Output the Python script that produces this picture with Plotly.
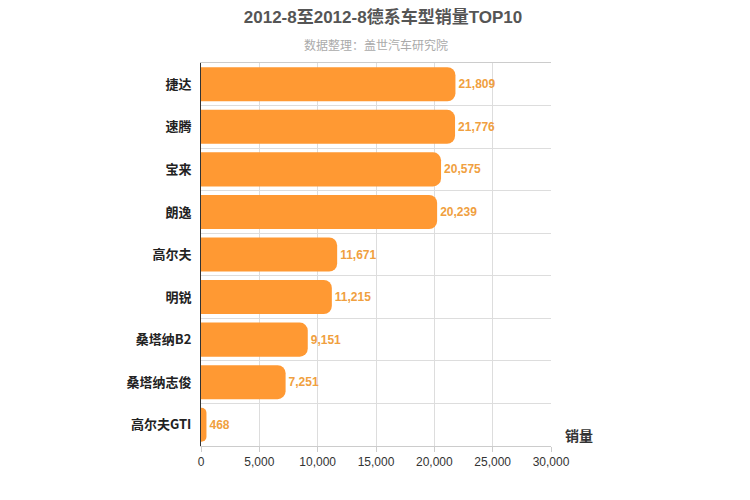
import plotly.graph_objects as go

categories = ["捷达", "速腾", "宝来", "朗逸", "高尔夫", "明锐", "桑塔纳B2", "桑塔纳志俊", "高尔夫GTI"]
values = [21809, 21776, 20575, 20239, 11671, 11215, 9151, 7251, 468]
tick_vals = [0, 5000, 10000, 15000, 20000, 25000, 30000]

fig = go.Figure(go.Bar(
    y=categories, x=values, orientation="h",
    marker=dict(color="#FF9933", cornerradius=8, line=dict(width=0)),
    width=0.8,
    text=[f"<b>{v:,}</b>" for v in values], textposition="outside",
    textfont=dict(color="#F0A040", size=12, family="Liberation Sans, Arial"),
    cliponaxis=False,
))
fig.update_layout(
    width=750, height=500, plot_bgcolor="white", paper_bgcolor="white",
    margin=dict(l=193, r=207, t=55, b=62, autoexpand=False),
    font=dict(family="Liberation Sans, Noto Sans CJK SC, Arial", color="#333"),
    title=dict(text="<b>2012-8至2012-8德系车型销量TOP10</b>", x=0.5, xanchor="center",
               y=0.982, yanchor="middle", font=dict(size=17, color="#555")),
    annotations=[
        dict(text="数据整理：盖世汽车研究院", x=0.5, xref="paper", y=1, yref="paper",
             yanchor="middle", yshift=18, showarrow=False, font=dict(size=12, color="#aaa")),
        dict(text="<b>销量</b>", x=1.0, xref="paper", xanchor="left", y=0, yref="paper",
             yanchor="bottom", showarrow=False, font=dict(size=14, color="#333"), xshift=12),
    ],
    showlegend=False,
)
fig.update_xaxes(range=[0, 30000], tickvals=tick_vals, tickformat=",", showgrid=True,
                 gridcolor="#ddd", zeroline=False, showline=True, linecolor="#ccc",
                 ticks="outside", tickcolor="#ccc", tickfont=dict(size=12, color="#333"), mirror=True)
fig.update_yaxes(autorange="reversed", showgrid=True, gridcolor="#ddd", showline=True,
                 linecolor="#333", ticks="", ticklabelstandoff=6, tickson="boundaries",
                 tickfont=dict(family="Noto Sans CJK SC", size=13, color="#222"),
                 tickvals=categories, ticktext=[f"<b>{c}</b>" for c in categories])
fig.write_html("out.html")
